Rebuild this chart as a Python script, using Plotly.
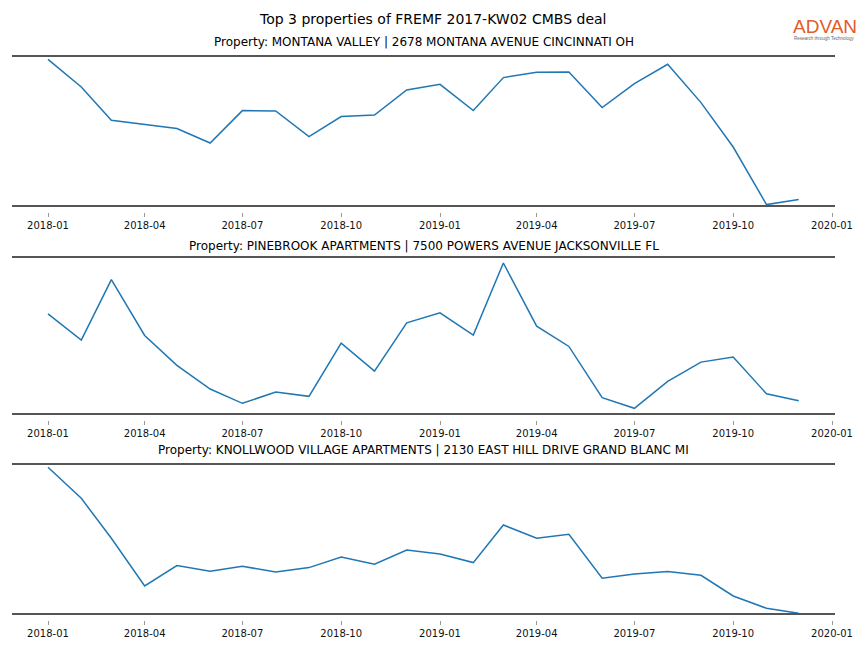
import pandas as pd
import plotly.graph_objects as go
from plotly.subplots import make_subplots

# ---------------- data ----------------
months = pd.date_range("2018-01-01", "2019-12-01", freq="MS")

titles = [
    "Property: MONTANA VALLEY | 2678 MONTANA AVENUE CINCINNATI OH",
    "Property: PINEBROOK APARTMENTS | 7500 POWERS AVENUE JACKSONVILLE FL",
    "Property: KNOLLWOOD VILLAGE APARTMENTS | 2130 EAST HILL DRIVE GRAND BLANC MI",
]

montana_valley = [146.7, 119.0, 85.7, 81.7, 77.4, 63.0, 95.4, 95.0, 69.4, 89.4, 91.0, 116.0,
                  121.7, 95.4, 128.4, 133.7, 134.0, 98.4, 122.4, 141.7, 103.4, 59.0, 1.4, 6.4]
pinebrook = [100.3, 74.0, 134.7, 78.7, 48.7, 25.0, 10.7, 22.0, 17.7, 71.0, 43.0, 91.3,
             101.3, 79.0, 151.3, 88.0, 67.7, 16.3, 5.7, 32.7, 52.0, 57.0, 20.3, 13.3]
knollwood = [146.7, 115.7, 75.7, 28.0, 48.4, 42.7, 47.7, 42.0, 46.4, 57.0, 49.7, 64.0,
             60.0, 51.4, 89.0, 75.7, 79.7, 35.7, 40.0, 42.4, 38.7, 18.0, 5.7, 0.7]

series = [montana_valley, pinebrook, knollwood]
y_ranges = [[0, 150], [0, 157.3], [0, 150]]

tick_vals = pd.date_range("2018-01-01", "2020-01-01", freq="3MS")
tick_text = [d.strftime("%Y-%m") for d in tick_vals]

# ---------------- layout geometry ----------------
W, H = 864, 648
px_left, px_right = 12, 835
x0_px, x1_px = 48, 832  # positions of 2018-01-01 and 2020-01-01
d0, d1 = pd.Timestamp("2018-01-01"), pd.Timestamp("2020-01-01")
per_px = (d1 - d0) / (x1_px - x0_px)
x_range = [d0 - per_px * (x0_px - px_left), d1 + per_px * (px_right - x1_px)]

panels_px = [(56, 206), (257, 414), (464, 614)]
title_px = [42, 246, 450]

fig = make_subplots(rows=3, cols=1)

font_family = "DejaVu Sans"
spine_col = "#555555"

for i, (vals, (top, bot)) in enumerate(zip(series, panels_px)):
    r = i + 1
    fig.add_trace(
        go.Scatter(x=months, y=vals, mode="lines",
                   line=dict(color="#1f77b4", width=1.5),
                   showlegend=False, hoverinfo="x+y"),
        row=r, col=1,
    )
    dom = [1 - bot / H, 1 - top / H]
    yname = "yaxis" if r == 1 else f"yaxis{r}"
    xname = "xaxis" if r == 1 else f"xaxis{r}"
    ya = "y" if r == 1 else f"y{r}"
    xa = "x" if r == 1 else f"x{r}"
    fig.update_layout({
        yname: dict(domain=dom, range=y_ranges[i], showticklabels=False,
                    showgrid=False, zeroline=False, showline=False, ticks="",
                    automargin=False),
        xname: dict(domain=[px_left / W, px_right / W], range=x_range,
                    anchor="free", position=1 - (bot + 5.5) / H,
                    tickmode="array", tickvals=tick_vals, ticktext=tick_text,
                    ticks="outside", ticklen=4, tickwidth=1, tickcolor="#999999",
                    showgrid=False, zeroline=False, showline=False,
                    automargin=False,
                    tickfont=dict(family=font_family, size=10, color="#111111")),
    })
    # top and bottom spines
    for yy in (0, 1):
        fig.add_shape(type="line", xref=f"{xa} domain", yref=f"{ya} domain",
                      x0=0, x1=1, y0=yy, y1=yy,
                      line=dict(color=spine_col, width=2))
    # subplot title
    fig.add_annotation(text=titles[i], xref="paper", yref="paper",
                       x=(px_left + px_right) / 2 / W, y=1 - title_px[i] / H,
                       xanchor="center", yanchor="middle", showarrow=False,
                       font=dict(family=font_family, size=12, color="#000000"))

# main title
fig.add_annotation(text="Top 3 properties of FREMF 2017-KW02 CMBS deal",
                   xref="paper", yref="paper", x=0.5, y=1 - 19.5 / H,
                   xanchor="center", yanchor="middle", showarrow=False,
                   font=dict(family=font_family, size=14, color="#000000"))

# logo
fig.add_annotation(text="ADVAN", xref="paper", yref="paper",
                   x=825 / W, y=1 - 27 / H, xanchor="center", yanchor="middle",
                   showarrow=False,
                   font=dict(family="Liberation Sans", size=19, color="#E35A2B"))
fig.add_annotation(text="Research through Technology", xref="paper", yref="paper",
                   x=824 / W, y=1 - 38 / H, xanchor="center", yanchor="middle",
                   showarrow=False,
                   font=dict(family="Liberation Sans", size=4.5, color="#666666"))

fig.update_layout(
    width=W, height=H,
    margin=dict(l=0, r=0, t=0, b=0, autoexpand=False),
    paper_bgcolor="white", plot_bgcolor="white",
    showlegend=False,
)

fig.write_html("out.html",
               config={"displayModeBar": False},
               post_script="document.body.style.margin='0';document.body.style.overflow='hidden';")
